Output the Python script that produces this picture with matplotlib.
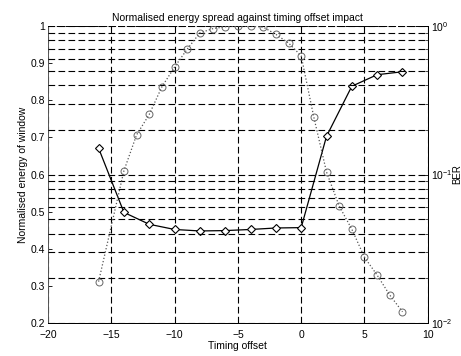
import numpy as np
import matplotlib
matplotlib.use('Agg')
import matplotlib.pyplot as plt
from matplotlib.ticker import LogLocator, NullFormatter

plt.rcParams['font.family'] = ['Liberation Sans', 'DejaVu Sans']

# normalised energy of window (left axis)
x_energy = [-16, -14, -12, -10, -8, -6, -4, -2, 0, 2, 4, 6, 8]
energy = [0.671, 0.498, 0.466, 0.452, 0.448, 0.449, 0.452, 0.456, 0.457,
          0.703, 0.838, 0.869, 0.877]

# BER (right axis, log)
x_ber = [-16, -14, -13, -12, -11, -10, -9, -8, -7, -6, -5, -4, -3, -2, -1,
         0, 1, 2, 3, 4, 5, 6, 7, 8]
ber = [0.019, 0.106, 0.185, 0.254, 0.39, 0.53, 0.70, 0.90, 0.96, 0.99, 1.0,
       1.0, 0.985, 0.88, 0.77, 0.63, 0.243, 0.104, 0.0614, 0.0428, 0.0277,
       0.021, 0.0154, 0.0119]

fig = plt.figure(figsize=(4.61, 3.56), dpi=100)
ax = fig.add_axes([0.104, 0.0927, 0.824, 0.834])
ax2 = ax.twinx()

dash = (0, (6, 3))

ax.plot(x_energy, energy, color='black', lw=0.9, marker='D', ms=4.5,
        mfc='white', mec='black', mew=0.8, zorder=5)
ax2.plot(x_ber, ber, color='#555555', lw=0.9, ls=':', marker='o', ms=5,
         mfc='none', mec='#666666', mew=0.7, zorder=4)

ax.set_xlim(-20, 10)
ax.set_ylim(0.2, 1.0)
ax.set_xticks(np.arange(-20, 11, 5))
ax.set_yticks(np.arange(0.2, 1.01, 0.1))
ax.set_yticklabels(['0.2', '0.3', '0.4', '0.5', '0.6', '0.7', '0.8', '0.9', '1'])

ax2.set_yscale('log')
ax2.set_ylim(1e-2, 1e0)
ax2.yaxis.set_major_locator(LogLocator(base=10, numticks=5))
ax2.yaxis.set_minor_locator(LogLocator(base=10, subs=np.arange(2, 10), numticks=20))
ax2.yaxis.set_minor_formatter(NullFormatter())

# grid: vertical from x ticks, horizontal from the log axis only
ax.xaxis.grid(True, color='black', ls=dash, lw=0.8)
ax2.yaxis.grid(True, which='both', color='black', ls=dash, lw=0.8)

for a in (ax, ax2):
    a.tick_params(direction='in', labelsize=7.5, length=3, width=0.6, pad=2)
    a.tick_params(which='minor', direction='in', length=2, width=0.5)
    for s in a.spines.values():
        s.set_linewidth(0.7)
ax.tick_params(axis='x', pad=5)
ax2.spines['left'].set_visible(False)
ax2.spines['top'].set_visible(False)
ax.spines['top'].set_linestyle(dash)
ax.spines['left'].set_color('#555555')

ax.set_title('Normalised energy spread against timing offset impact', fontsize=7.5, pad=4)
ax.set_xlabel('Timing offset', fontsize=7.5, labelpad=1)
ax.set_ylabel('Normalised energy of window', fontsize=7.5, labelpad=2)
ax2.set_ylabel('BER', fontsize=7, labelpad=0)

fig.savefig('out.png', dpi=100)
